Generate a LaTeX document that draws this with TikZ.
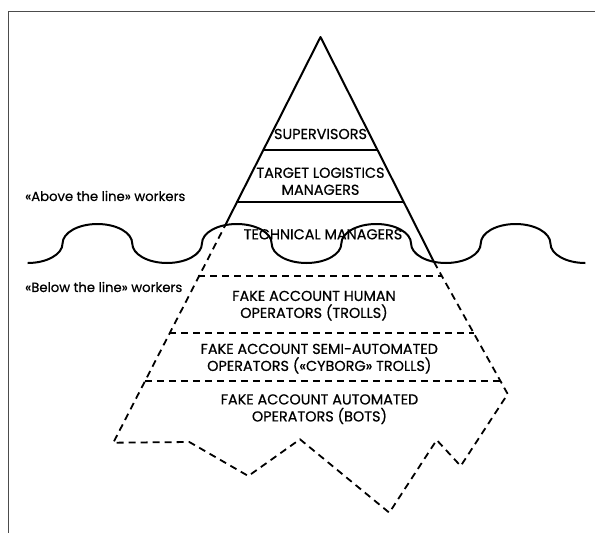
\documentclass[tikz,border=0pt]{standalone}
\usepackage{fontspec}
\setmainfont{Poppins}
\newfontfamily\labfont{Poppins}[FakeBold=0.6]
\begin{document}
\begin{tikzpicture}[x=1pt,y=1pt,
  solidline/.style={line width=2pt,line join=round},
  dashline/.style={line width=1.8pt,dash pattern=on 7pt off 5pt},
  waveline/.style={line width=2pt},
  framel/.style={line width=1.6pt,draw=black!70},
  tier/.style={font=\labfont\fontsize{14.4}{17}\selectfont,align=center,inner sep=0pt},
  side/.style={font=\labfont\fontsize{13.2}{15}\selectfont,anchor=west,inner sep=0pt}]
\useasboundingbox (0,0) rectangle (595,-533);
% frame
\coordinate (fbl) at (8.3,-533);
\coordinate (ftl) at (8.3,-11.5);
\coordinate (ftr) at (595,-11.5);
\draw[framel] (fbl) -- (ftl) -- (ftr);
% pyramid coordinates
\coordinate (apex) at (320.5,-37);
\coordinate (wl) at (225.5,-224.8);
\coordinate (wr) at (434,-262);
\coordinate (rc) at (507.7,-394);
\coordinate (z1) at (460.7,-466);
\coordinate (z2) at (436.7,-440);
\coordinate (z3) at (389.3,-512.7);
\coordinate (z4) at (300,-439.3);
\coordinate (z5) at (248.3,-476);
\coordinate (z6) at (189.3,-442);
\coordinate (bl) at (113.3,-442.7);
% level lines
\coordinate (s1l) at (262.8,-150);
\coordinate (s1r) at (377.5,-150);
\coordinate (s2l) at (236.2,-202.3);
\coordinate (s2r) at (403.7,-202.3);
\coordinate (d1l) at (198.4,-276);
\coordinate (d1r) at (441.8,-276);
\coordinate (d2l) at (169.2,-333.3);
\coordinate (d2r) at (473.7,-333.3);
\coordinate (d3l) at (144.8,-381);
\coordinate (d3r) at (500.5,-381);
% water
\draw[waveline] (27.7,-263)
  arc[start angle=270,end angle=360,x radius=34.85,y radius=19.5]
  arc[start angle=180,end angle=0,x radius=34.85,y radius=19.5]
  arc[start angle=180,end angle=360,x radius=34.85,y radius=19.5]
  arc[start angle=180,end angle=0,x radius=34.85,y radius=19.5]
  arc[start angle=180,end angle=360,x radius=34.85,y radius=19.5]
  arc[start angle=180,end angle=0,x radius=34.85,y radius=19.5]
  arc[start angle=180,end angle=360,x radius=34.85,y radius=19.5]
  arc[start angle=180,end angle=0,x radius=34.85,y radius=19.5]
  arc[start angle=180,end angle=270,x radius=34.85,y radius=19.5];
% visible tip
\draw[solidline] (wl) -- (apex) -- (wr);
\draw[solidline] (s1l) -- (s1r);
\draw[solidline] (s2l) -- (s2r);
% submerged part
\draw[dashline] (wr) -- (rc) -- (z1) -- (z2) -- (z3) -- (z4) -- (z5) -- (z6) -- (bl) -- (wl);
\draw[dashline] (d1l) -- (d1r);
\draw[dashline] (d2l) -- (d2r);
\draw[dashline] (d3l) -- (d3r);
% texts
\node[tier] (sup) at (320.5,-134) {SUPERVISORS};
\node[tier] (tlm) at (320.5,-181.3) {TARGET LOGISTICS\\MANAGERS};
\node[tier] (tec) at (323,-234.3) {TECHNICAL MANAGERS};
\node[tier] (fah) at (314,-305.7) {FAKE ACCOUNT HUMAN\\OPERATORS (TROLLS)};
\node[tier] (fas) at (319.3,-358.7) {FAKE ACCOUNT SEMI-AUTOMATED\\OPERATORS («CYBORG» TROLLS)};
\node[tier] (faa) at (319.5,-409.2) {FAKE ACCOUNT AUTOMATED\\OPERATORS (BOTS)};
\node[side] (above) at (25,-196) {«Above the line» workers};
\node[side] (below) at (25,-287) {«Below the line» workers};
\end{tikzpicture}
\end{document}
